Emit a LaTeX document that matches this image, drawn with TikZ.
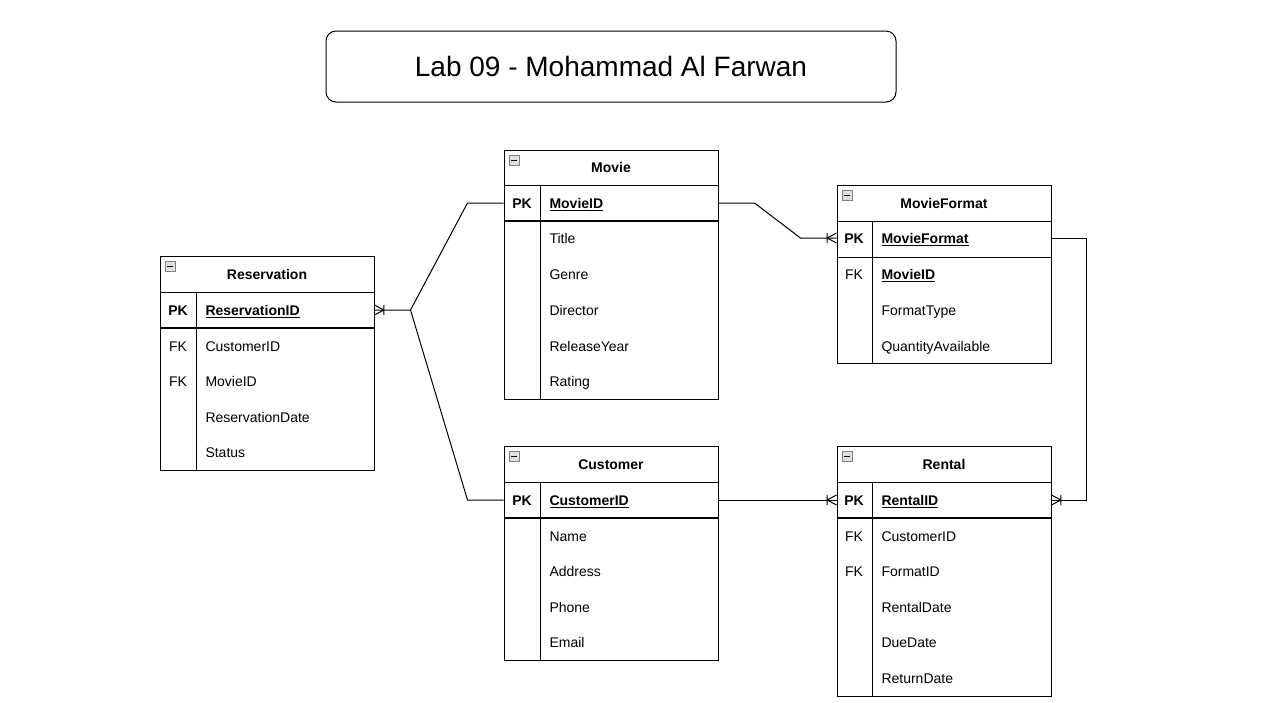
\documentclass[tikz,border=0pt]{standalone}
\usepackage{fontspec}
\setmainfont{Liberation Sans}

% one-or-many end: #1 anchor on the table, #2 shift of the bar
\newcommand{\crowfoot}[2]{%
  \draw ([xshift=#2]#1) -- ([yshift=3.75pt]#1)
        ([xshift=#2]#1) -- ([yshift=-3.75pt]#1)
        ([xshift=#2,yshift=3.75pt]#1) -- ([xshift=#2,yshift=-3.75pt]#1);}

\begin{document}
\begin{tikzpicture}[x=0.75pt, y=-0.75pt, line width=0.75pt,
    every node/.style={font=\fontsize{10.5}{12}\selectfont, inner sep=0pt, text height=9.5pt, text depth=2pt},
    tabhead/.style={font=\fontsize{10.5}{12}\selectfont\bfseries},
    field/.style={anchor=west},
    pkrow/.style={minimum width=160.5pt, minimum height=27pt},
    pkline/.style={line width=1.5pt},
    icon/.style={draw=gray, fill=gray!25, line width=0.6pt}]
    \useasboundingbox (0,0) rectangle (1279,703);

    % title
    \node[draw, rounded corners=7.5pt, minimum width=427.5pt, minimum height=53.25pt,
          font=\fontsize{21}{25}\selectfont, text height=17pt, text depth=2pt] (title) at (611,66.5) {Lab 09 - Mohammad Al Farwan};

    % Reservation
    \draw (160,256) rectangle (374,470);
    \draw (160,292) -- (374,292);
    \draw[pkline] (160,328) -- (374,328);
    \draw (196,292) -- (196,470);
    \draw[icon] (165,261) rectangle (175,271);
    \draw (167,266) -- (173,266);
    \node[tabhead] (res) at (267,274) {Reservation};
    \node[pkrow] (respk) at (267,310) {};
    \node[tabhead] (res-k0) at (178,310) {PK};
    \node[anchor = center] (res-k1) at (178,346) {FK};
    \node[anchor = center] (res-k2) at (178,381) {FK};
    \node[field] (res-f0) at (205,310) {\textbf{\underline{ReservationID}}};
    \node[field] (res-f1) at (205,346) {CustomerID};
    \node[field] (res-f2) at (205,381) {MovieID};
    \node[field] (res-f3) at (205,417) {ReservationDate};
    \node[field] (res-f4) at (205,452) {Status};

    % Movie
    \draw (504,150) rectangle (718,399);
    \draw (504,185) -- (718,185);
    \draw[pkline] (504,221) -- (718,221);
    \draw (540,185) -- (540,399);
    \draw[icon] (509,155) rectangle (519,165);
    \draw (511,160) -- (517,160);
    \node[tabhead] (movie) at (611,167) {Movie};
    \node[pkrow] (moviepk) at (611,203) {};
    \node[tabhead] (movie-k0) at (522,203) {PK};
    \node[field] (movie-f0) at (549,203) {\textbf{\underline{MovieID}}};
    \node[field] (movie-f1) at (549,238) {Title};
    \node[field] (movie-f2) at (549,274) {Genre};
    \node[field] (movie-f3) at (549,310) {Director};
    \node[field] (movie-f4) at (549,346) {ReleaseYear};
    \node[field] (movie-f5) at (549,381) {Rating};

    % MovieFormat
    \draw (837,185) rectangle (1051,363);
    \draw (837,221) -- (1051,221);
    \draw (837,257) -- (1051,257);
    \draw (872,221) -- (872,363);
    \draw[icon] (842,190) rectangle (852,200);
    \draw (844,195) -- (850,195);
    \node[tabhead] (fmt) at (944,203) {MovieFormat};
    \node[pkrow] (fmtpk) at (944,238) {};
    \node[tabhead] (fmt-k0) at (854,238) {PK};
    \node[anchor = center] (fmt-k1) at (854,274) {FK};
    \node[field] (fmt-f0) at (881,238) {\textbf{\underline{MovieFormat}}};
    \node[field] (fmt-f1) at (881,274) {\textbf{\underline{MovieID}}};
    \node[field] (fmt-f2) at (881,310) {FormatType};
    \node[field] (fmt-f3) at (881,346) {QuantityAvailable};

    % Customer
    \draw (504,446) rectangle (718,660);
    \draw (504,482) -- (718,482);
    \draw[pkline] (504,518) -- (718,518);
    \draw (540,482) -- (540,660);
    \draw[icon] (509,451) rectangle (519,461);
    \draw (511,456) -- (517,456);
    \node[tabhead] (cust) at (611,464) {Customer};
    \node[pkrow] (custpk) at (611,500) {};
    \node[tabhead] (cust-k0) at (522,500) {PK};
    \node[field] (cust-f0) at (549,500) {\textbf{\underline{CustomerID}}};
    \node[field] (cust-f1) at (549,536) {Name};
    \node[field] (cust-f2) at (549,571) {Address};
    \node[field] (cust-f3) at (549,607) {Phone};
    \node[field] (cust-f4) at (549,642) {Email};

    % Rental
    \draw (837,446) rectangle (1051,696);
    \draw (837,482) -- (1051,482);
    \draw[pkline] (837,518) -- (1051,518);
    \draw (872,482) -- (872,696);
    \draw[icon] (842,451) rectangle (852,461);
    \draw (844,456) -- (850,456);
    \node[tabhead] (rent) at (944,464) {Rental};
    \node[pkrow] (rentpk) at (944,500) {};
    \node[tabhead] (rent-k0) at (854,500) {PK};
    \node[anchor = center] (rent-k1) at (854,536) {FK};
    \node[anchor = center] (rent-k2) at (854,571) {FK};
    \node[field] (rent-f0) at (881,500) {\textbf{\underline{RentalID}}};
    \node[field] (rent-f1) at (881,536) {CustomerID};
    \node[field] (rent-f2) at (881,571) {FormatID};
    \node[field] (rent-f3) at (881,607) {RentalDate};
    \node[field] (rent-f4) at (881,642) {DueDate};
    \node[field] (rent-f5) at (881,678) {ReturnDate};

    % relations
    \draw (respk.east) -- ++(36,0) coordinate (split) -- ([xshift=-27pt]moviepk.west) -- (moviepk.west);
    \draw (split) -- ([xshift=-27pt]custpk.west) -- (custpk.west);
    \draw (moviepk.east) -- ++(36,0) -- ([xshift=-27pt]fmtpk.west) -- (fmtpk.west);
    \draw (custpk.east) -- (rentpk.west);
    \draw (fmtpk.east) -- ++(35,0) |- (rentpk.east);
    \crowfoot{respk.east}{7pt}
    \crowfoot{fmtpk.west}{-7pt}
    \crowfoot{rentpk.west}{-7pt}
    \crowfoot{rentpk.east}{7pt}
\end{tikzpicture}
\end{document}
